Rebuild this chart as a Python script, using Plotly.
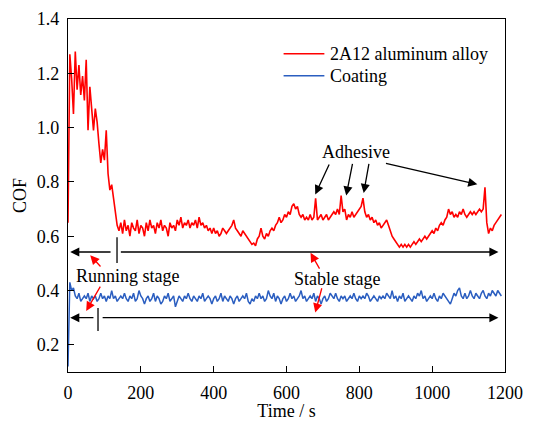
import plotly.graph_objects as go

# time grid (s), one sample every 5 s
time_s = list(range(0, 1195, 5))

# 2A12 aluminum alloy COF (rows of 10 samples = 50 s)
cof_alloy = [
    0.65, 1.27, 1.18, 1.05, 1.28, 1.14, 1.23, 1.12, 1.19, 1.10,
    1.25, 0.99, 1.15, 1.06, 0.99, 1.07, 1.02, 0.94, 0.87, 0.92,
    0.88, 0.99, 0.83, 0.77, 0.79, 0.74, 0.68, 0.64, 0.62, 0.65,
    0.61, 0.66, 0.62, 0.64, 0.60, 0.65, 0.63, 0.62, 0.66, 0.61,
    0.64, 0.63, 0.60, 0.65, 0.62, 0.66, 0.63, 0.64, 0.61, 0.65,
    0.63, 0.66, 0.62, 0.64, 0.63, 0.60, 0.65, 0.63, 0.64, 0.62,
    0.66, 0.64, 0.67, 0.63, 0.65, 0.64, 0.66, 0.63, 0.65, 0.64,
    0.66, 0.63, 0.67, 0.64, 0.65, 0.63, 0.64, 0.62, 0.63, 0.61,
    0.63, 0.61, 0.62, 0.60, 0.61, 0.63, 0.62, 0.61, 0.62, 0.63,
    0.64, 0.66, 0.63, 0.62, 0.61, 0.60, 0.62, 0.61, 0.60, 0.59,
    0.58, 0.57, 0.575, 0.565, 0.59, 0.60, 0.63, 0.60, 0.59, 0.61,
    0.60, 0.62, 0.63, 0.62, 0.64, 0.65, 0.67, 0.65, 0.66, 0.68,
    0.67, 0.69, 0.68, 0.71, 0.72, 0.70, 0.71, 0.68, 0.67, 0.68,
    0.66, 0.67, 0.66, 0.68, 0.66, 0.67, 0.74, 0.66, 0.67, 0.68,
    0.66, 0.67, 0.68, 0.66, 0.67, 0.68, 0.69, 0.68, 0.70, 0.68,
    0.75, 0.69, 0.70, 0.66, 0.68, 0.67, 0.69, 0.67, 0.68, 0.69,
    0.70, 0.71, 0.74, 0.69, 0.67, 0.68, 0.66, 0.67, 0.65, 0.66,
    0.64, 0.65, 0.63, 0.64, 0.65, 0.66, 0.64, 0.62, 0.60, 0.59,
    0.58, 0.57, 0.56, 0.57, 0.56, 0.57, 0.56, 0.57, 0.56, 0.57,
    0.58, 0.57, 0.58, 0.59, 0.58, 0.59, 0.60, 0.59, 0.60, 0.61,
    0.62, 0.61, 0.63, 0.62, 0.64, 0.65, 0.64, 0.66, 0.67, 0.70,
    0.68, 0.69, 0.67, 0.68, 0.67, 0.69, 0.68, 0.70, 0.68, 0.67,
    0.68, 0.69, 0.68, 0.69, 0.68, 0.69, 0.70, 0.69, 0.70, 0.78,
    0.65, 0.61, 0.63, 0.62, 0.64, 0.65, 0.66, 0.67, 0.68,
]

# Coating COF
cof_coating = [
    0.12, 0.43, 0.40, 0.41, 0.38, 0.37, 0.39, 0.36, 0.37, 0.38,
    0.37, 0.39, 0.36, 0.38, 0.37, 0.38, 0.36, 0.37, 0.39, 0.37,
    0.38, 0.36, 0.38, 0.37, 0.40, 0.37, 0.38, 0.36, 0.37, 0.38,
    0.37, 0.39, 0.37, 0.36, 0.38, 0.37, 0.39, 0.36, 0.37, 0.40,
    0.38, 0.37, 0.35, 0.37, 0.38, 0.36, 0.37, 0.39, 0.36, 0.38,
    0.37, 0.35, 0.36, 0.38, 0.37, 0.39, 0.36, 0.37, 0.38, 0.34,
    0.36, 0.38, 0.37, 0.36, 0.38, 0.37, 0.39, 0.37, 0.36, 0.38,
    0.37, 0.36, 0.38, 0.37, 0.39, 0.36, 0.37, 0.38, 0.37, 0.35,
    0.37, 0.38, 0.36, 0.37, 0.39, 0.36, 0.38, 0.37, 0.36, 0.38,
    0.37, 0.35, 0.37, 0.38, 0.36, 0.37, 0.38, 0.37, 0.39, 0.36,
    0.35, 0.37, 0.36, 0.38, 0.37, 0.39, 0.37, 0.38, 0.36, 0.37,
    0.40, 0.38, 0.37, 0.39, 0.36, 0.38, 0.37, 0.35, 0.37, 0.38,
    0.36, 0.37, 0.39, 0.37, 0.38, 0.36, 0.37, 0.38, 0.40, 0.37,
    0.38, 0.36, 0.37, 0.38, 0.37, 0.39, 0.36, 0.38, 0.37, 0.35,
    0.37, 0.38, 0.36, 0.37, 0.39, 0.38, 0.37, 0.39, 0.37, 0.36,
    0.38, 0.37, 0.38, 0.36, 0.37, 0.38, 0.37, 0.39, 0.37, 0.36,
    0.38, 0.37, 0.38, 0.37, 0.39, 0.38, 0.36, 0.37, 0.38, 0.37,
    0.36, 0.38, 0.37, 0.38, 0.37, 0.39, 0.38, 0.37, 0.40, 0.37,
    0.38, 0.36, 0.38, 0.37, 0.39, 0.36, 0.37, 0.38, 0.37, 0.36,
    0.38, 0.37, 0.39, 0.38, 0.40, 0.37, 0.38, 0.36, 0.37, 0.38,
    0.37, 0.39, 0.37, 0.36, 0.38, 0.37, 0.39, 0.38, 0.37, 0.36,
    0.35, 0.37, 0.39, 0.38, 0.40, 0.41, 0.38, 0.37, 0.39, 0.37,
    0.38, 0.40, 0.38, 0.37, 0.39, 0.38, 0.37, 0.39, 0.40, 0.38,
    0.37, 0.39, 0.38, 0.40, 0.39, 0.38, 0.40, 0.39, 0.38,
]

series_names = ["2A12 aluminum alloy", "Coating"]
series_colors = ["#FF0000", "#2B5EC0"]

x_ticks = [0, 200, 400, 600, 800, 1000, 1200]
y_ticks = [0.2, 0.4, 0.6, 0.8, 1.0, 1.2, 1.4]
y_tick_text = ["0.2", "0.4", "0.6", "0.8", "1.0", "1.2", "1.4"]

assert len(cof_alloy) == len(time_s) and len(cof_coating) == len(time_s)

FONT = "Times New Roman"

fig = go.Figure()
fig.add_trace(go.Scatter(x=time_s, y=cof_alloy, mode="lines", name=series_names[0],
                         line=dict(color=series_colors[0], width=1.6), showlegend=False))
fig.add_trace(go.Scatter(x=time_s, y=cof_coating, mode="lines", name=series_names[1],
                         line=dict(color=series_colors[1], width=1.5), showlegend=False))

annotations = []
shapes = []

def label(text, x, y, xanchor="center"):
    annotations.append(dict(x=x, y=y, xref="x", yref="y", text=text, showarrow=False,
                            xanchor=xanchor,
                            font=dict(family=FONT, size=18, color="black")))

def arrow(x_head, y_head, x_tail, y_tail, color, size=1.4, width=1.3):
    annotations.append(dict(x=x_head, y=y_head, ax=x_tail, ay=y_tail, xref="x", yref="y",
                            axref="x", ayref="y", text="", showarrow=True, arrowhead=2,
                            arrowsize=size, arrowwidth=width, arrowcolor=color, standoff=0))

def seg(x0, y0, x1, y1, color, width=1.3):
    shapes.append(dict(type="line", xref="x", yref="y", x0=x0, x1=x1, y0=y0, y1=y1,
                       line=dict(color=color, width=width)))

# legend (drawn inside the plot, top right)
legend_rows_y = [1.272, 1.191]
for name, color, ly in zip(series_names, series_colors, legend_rows_y):
    seg(592, ly, 704, ly, color, 1.5)
    label(name, 715, ly, xanchor="left")

label("Running stage", 164, 0.453)
label("Stable stage", 738, 0.443)
label("Adhesive", 792, 0.909)

# stage extent arrows (alloy)
arrow(6, 0.542, 121, 0.542, "black")
arrow(1182, 0.542, 141, 0.542, "black")
seg(134.6, 0.501, 134.6, 0.596, "black")
# stage extent arrows (coating)
arrow(6, 0.300, 74, 0.300, "black")
arrow(1182, 0.300, 91, 0.300, "black")
seg(82.4, 0.251, 82.4, 0.336, "black")

# red pointer arrows
arrow(61, 0.530, 93, 0.483, "#FF0000")
arrow(50, 0.325, 91, 0.420, "#FF0000")
arrow(666, 0.539, 693, 0.475, "#FF0000")
arrow(679, 0.319, 698, 0.414, "#FF0000")

# adhesive arrows
arrow(679, 0.754, 719, 0.870, "black")
arrow(764, 0.750, 782, 0.872, "black")
arrow(812, 0.759, 827, 0.872, "black")
arrow(1124, 0.791, 869, 0.870, "black")

axis_common = dict(showline=True, linecolor="black", linewidth=1.4, mirror=True,
                   ticks="inside", ticklen=6, tickwidth=1.2, tickcolor="black",
                   showgrid=False, zeroline=False, automargin=False,
                   tickfont=dict(family=FONT, size=18, color="black"))

fig.update_layout(
    width=536, height=421,
    margin=dict(l=68, r=31, t=19, b=49),
    paper_bgcolor="white", plot_bgcolor="white",
    font=dict(family=FONT, size=18, color="black"),
    xaxis=dict(range=[0, 1200], tickvals=x_ticks, ticklabelstandoff=4,
               title=dict(text="Time / s", font=dict(family=FONT, size=18), standoff=6),
               **axis_common),
    yaxis=dict(range=[0.1, 1.4], tickvals=y_ticks, ticktext=y_tick_text, ticklabelstandoff=4,
               title=dict(text="COF", font=dict(family=FONT, size=18), standoff=5),
               **axis_common),
    annotations=annotations,
    shapes=shapes,
    showlegend=False,
)

fig.write_html("out.html", config={"displayModeBar": False},
               post_script="document.body.style.margin='0';document.body.style.padding='0';")
